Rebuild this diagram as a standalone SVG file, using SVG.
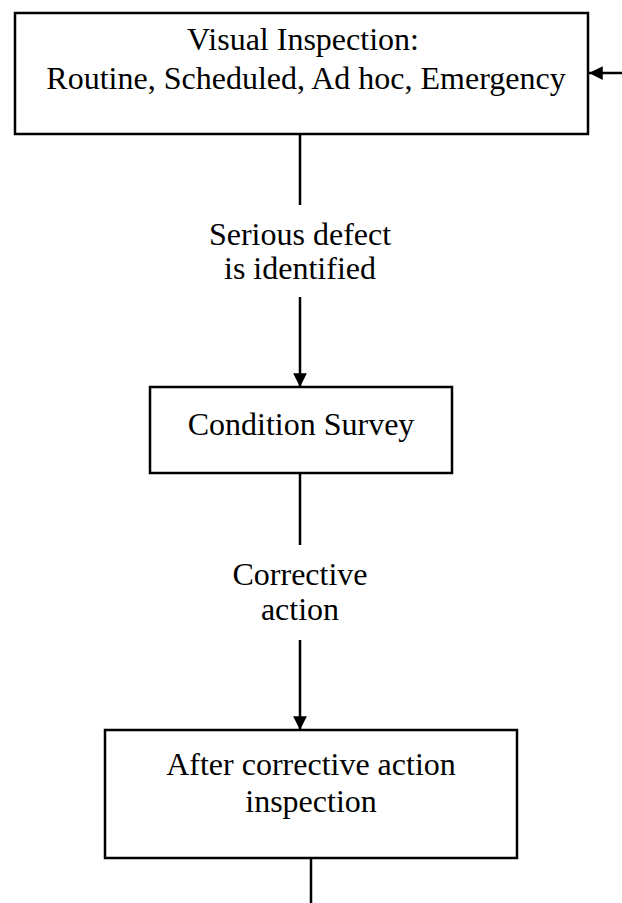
<svg xmlns="http://www.w3.org/2000/svg" width="622" height="903" viewBox="0 0 622 903">
  <style>
    .box { fill: #fff; stroke: #000; stroke-width: 2.5; }
    .lbl { font-family: "Liberation Serif", "Times New Roman", serif; font-size: 32px; fill: #000; text-anchor: middle; }
    .wire { stroke: #000; stroke-width: 2.5; fill: none; }
  </style>
  <defs>
    <marker id="arrow" viewBox="0 0 10 10" refX="10" refY="5" markerWidth="6" markerHeight="5.5" markerUnits="strokeWidth" orient="auto">
      <path d="M0,0 L10,5 L0,10 z" fill="#000"/>
    </marker>
  </defs>
  <rect width="622" height="903" fill="#fff"/>

  <!-- connectors between the steps, plus the loop-back arrow on the right -->
  <g id="connectors">
    <line class="wire" x1="622" y1="73" x2="589" y2="73" marker-end="url(#arrow)"/>
    <line class="wire" x1="300" y1="134" x2="300" y2="205"/>
    <line class="wire" x1="300" y1="297" x2="300" y2="387" marker-end="url(#arrow)"/>
    <line class="wire" x1="300" y1="473" x2="300" y2="545"/>
    <line class="wire" x1="300" y1="640" x2="300" y2="730" marker-end="url(#arrow)"/>
    <line class="wire" x1="311" y1="858" x2="311" y2="903"/>
  </g>

  <g id="edge-labels">
    <text class="lbl" x="300" y="245">Serious defect</text>
    <text class="lbl" x="300" y="279">is identified</text>
    <text class="lbl" x="300" y="585">Corrective</text>
    <text class="lbl" x="300" y="620">action</text>
  </g>

  <g id="visual-inspection">
    <rect class="box" x="15" y="13" width="573" height="121"/>
    <text class="lbl" x="303" y="50">Visual Inspection:</text>
    <text class="lbl" x="306" y="89">Routine, Scheduled, Ad hoc, Emergency</text>
  </g>

  <g id="condition-survey">
    <rect class="box" x="150" y="387" width="302" height="86"/>
    <text class="lbl" x="301" y="435">Condition Survey</text>
  </g>

  <g id="after-action-inspection">
    <rect class="box" x="105" y="730" width="412" height="128"/>
    <text class="lbl" x="311" y="775">After corrective action</text>
    <text class="lbl" x="311" y="812">inspection</text>
  </g>
</svg>
